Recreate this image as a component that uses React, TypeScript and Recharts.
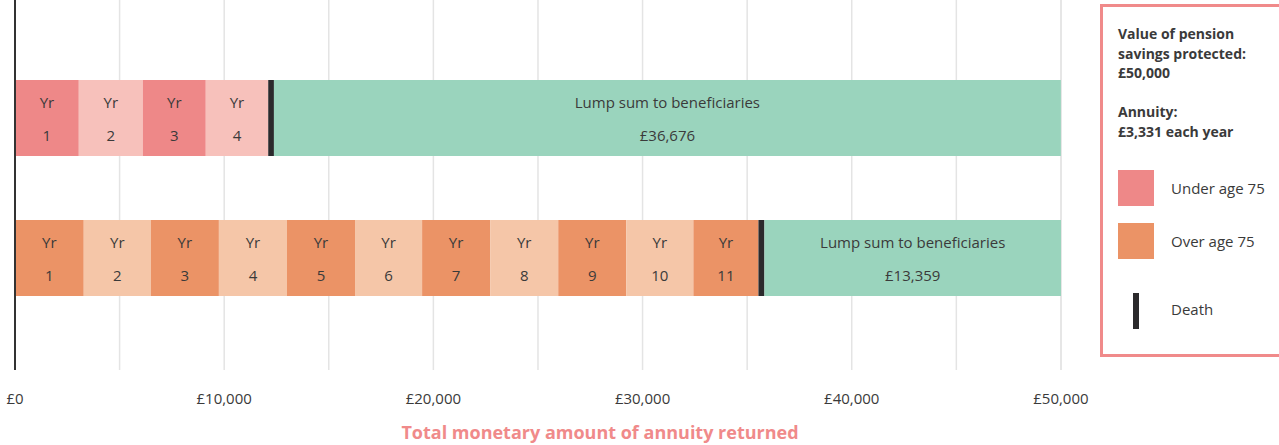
import { BarChart, Bar, XAxis, YAxis, CartesianGrid, Cell, LabelList } from 'recharts'

const rows = ['Under age 75', 'Over age 75']
const yearsUnder75 = [3050, 3060, 3010, 2985]
const yearsOver75 = [3287, 3206, 3254, 3254, 3254, 3206, 3254, 3254, 3254, 3206, 3110]
const deathMarks = [273, 287]
const lumpSums = [37620, 14177]
const lumpLabels = ['£36,676', '£13,359']
const xTicks = [0, 5000, 10000, 15000, 20000, 25000, 30000, 35000, 40000, 45000, 50000]

const FONT = '"Open Sans", sans-serif'
const TEXT = '#3a3a3a'
const PINK = '#f08a8a'

// dark / light pairs for each row
const yearColors = [
  ['#ee8888', '#f7c1bb'],
  ['#eb9366', '#f5c6a8'],
]
const GREEN = '#9ad4bd'
const DEATH = '#2b2a2c'

const yearSeries = [yearsUnder75, yearsOver75]
const maxYears = Math.max(yearsUnder75.length, yearsOver75.length)
const yearKeys = Array.from({ length: maxYears }, (_, i) => `y${i + 1}`)

const data = rows.map((name, r) => {
  const row: Record<string, any> = { name, death: deathMarks[r], lump: lumpSums[r] }
  yearSeries[r].forEach((v, i) => { row[`y${i + 1}`] = v })
  return row
})

const twoLine = (top: string, bottom: (index: number) => string) => (p: any) => {
  const { x, y, width, height, index } = p
  if (!width || width < 1) return null
  const cx = x + width / 2
  const cy = y + height / 2
  return (
    <g>
      <text x={cx} y={cy - 10} textAnchor="middle" fill={TEXT} fontSize={15} fontFamily={FONT}>{top}</text>
      <text x={cx} y={cy + 23} textAnchor="middle" fill={TEXT} fontSize={15} fontFamily={FONT}>{bottom(index)}</text>
    </g>
  )
}

const fmt = (v: number) => (v % 10000 === 0 ? '£' + v.toLocaleString('en-GB') : '')

function Legend() {
  const label = { position: 'absolute' as const, left: 68, fontSize: 15, color: TEXT, lineHeight: '20px' }
  return (
    <div style={{ position: 'absolute', left: 1100, top: 4, width: 200, height: 353, border: `3px solid ${PINK}`, boxSizing: 'border-box' }}>
      <div style={{ position: 'absolute', left: 15, top: 17, fontSize: 14, fontWeight: 700, color: TEXT, lineHeight: '19.6px' }}>
        Value of pension<br />savings protected:<br />£50,000<br /><br />Annuity:<br />£3,331 each year
      </div>
      <div style={{ position: 'absolute', left: 15, top: 163, width: 36, height: 36, background: yearColors[0][0] }} />
      <div style={{ ...label, top: 171 }}>Under age 75</div>
      <div style={{ position: 'absolute', left: 15, top: 216, width: 36, height: 36, background: yearColors[1][0] }} />
      <div style={{ ...label, top: 224 }}>Over age 75</div>
      <div style={{ position: 'absolute', left: 30, top: 286, width: 6, height: 36, background: DEATH }} />
      <div style={{ ...label, top: 292 }}>Death</div>
    </div>
  )
}

export default function App() {
  return (
    <div style={{ position: 'absolute', left: 0, top: 0, width: 1279, height: 445, overflow: 'hidden', fontFamily: FONT, background: '#fff' }}>
      <BarChart
        layout="vertical"
        width={1095}
        height={445}
        data={data}
        margin={{ top: 0, right: 34, bottom: 15, left: 14 }}
      >
        <CartesianGrid horizontal={false} stroke="#e4e4e4" strokeWidth={1.5} />
        <XAxis
          type="number"
          domain={[0, 50000]}
          ticks={xTicks}
          tickFormatter={fmt}
          axisLine={false}
          tickLine={false}
          tickSize={0}
          tickMargin={23}
          height={60}
          interval={0}
          tick={{ fill: TEXT, fontSize: 15, fontFamily: FONT }}
        />
        <YAxis
          type="category"
          dataKey="name"
          width={1}
          tick={false}
          tickLine={false}
          axisLine={{ stroke: '#333', strokeWidth: 2 }}
          padding={{ top: 48, bottom: 42 }}
        />
        {yearKeys.map((key, i) => (
          <Bar key={key} dataKey={key} stackId="a" barSize={76} isAnimationActive={false}>
            {data.map((_, r) => (
              <Cell key={r} fill={yearColors[r][i % 2]} />
            ))}
            <LabelList dataKey={key} content={twoLine('Yr', () => String(i + 1))} />
          </Bar>
        ))}
        <Bar dataKey="death" stackId="a" barSize={76} fill={DEATH} isAnimationActive={false} />
        <Bar dataKey="lump" stackId="a" barSize={76} fill={GREEN} isAnimationActive={false}>
          <LabelList dataKey="lump" content={twoLine('Lump sum to beneficiaries', (idx) => lumpLabels[idx])} />
        </Bar>
      </BarChart>
      <div style={{ position: 'absolute', left: 400, width: 400, top: 420, textAlign: 'center', fontSize: 18, fontWeight: 700, color: PINK, whiteSpace: 'nowrap' }}>
        Total monetary amount of annuity returned
      </div>
      <Legend />
    </div>
  )
}
